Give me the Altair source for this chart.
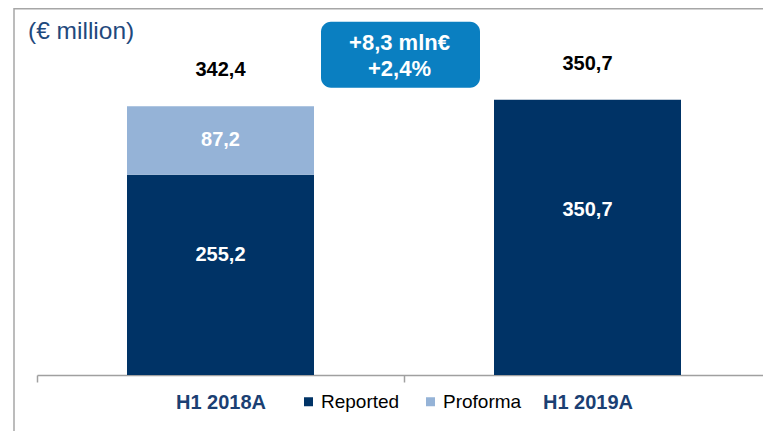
import altair as alt
import pandas as pd

# ---- data ----
categories = ["H1 2018A", "H1 2018A", "H1 2019A"]
series = ["Reported", "Proforma", "Reported"]
values = [255.2, 87.2, 350.7]
stack_order = [0, 1, 0]
category_order = ["H1 2018A", "H1 2019A"]
legend_series = ["Reported", "Proforma"]
series_colors = ["#003366", "#95B3D7"]
badge_lines = ["+8,3 mln€", "+2,4%"]
unit_title = "(€ million)"

df = pd.DataFrame({"category": categories, "series": series,
                   "value": values, "order": stack_order})

FONT = "Liberation Sans"
NAVY_TEXT = "#1B3F73"
GRID_GREY = "#A0A0A0"

y_scale = alt.Scale(domain=[0, 467.5], nice=False, zero=True)

x_axis = alt.X(
    "category:N", sort=category_order, title=None,
    scale=alt.Scale(paddingInner=0, paddingOuter=0),
    axis=alt.Axis(labelAngle=0, tickBand="extent", tickSize=7,
                  domainColor=GRID_GREY, tickColor=GRID_GREY,
                  domainWidth=1.5, tickWidth=1.5,
                  labelFontSize=20, labelFontWeight="bold",
                  labelColor=NAVY_TEXT, labelFont=FONT,
                  labelPadding=10, labelBaseline="top", grid=False),
)

fmt = "replace(format(datum.value, '.1f'), '.', ',')"

base = alt.Chart(df).transform_stack(
    stack="value", groupby=["category"], as_=["y0", "y1"],
    sort=[alt.SortField("order", order="ascending")],
)

bars = base.mark_bar(width=187).encode(
    x=x_axis,
    y=alt.Y("y0:Q", scale=y_scale, axis=None),
    y2="y1:Q",
    color=alt.Color(
        "series:N",
        scale=alt.Scale(domain=legend_series, range=series_colors),
        legend=alt.Legend(title=None, orient="none", legendX=262, legendY=384,
                          direction="horizontal", symbolType="square",
                          symbolSize=81, symbolStrokeWidth=0, symbolOpacity=1,
                          labelFontSize=19, labelFont=FONT, labelColor="black",
                          columnPadding=21, labelOffset=3, padding=0),
    ),
)

inner = base.transform_calculate(
    label_y="datum.y0 + (datum.y1 - datum.y0) * (datum.series == 'Reported' ? 0.6 : 0.5)",
    label=fmt,
).mark_text(color="white", fontSize=20, fontWeight="bold", font=FONT,
            baseline="middle").encode(
    x=x_axis,
    y=alt.Y("label_y:Q", scale=y_scale, axis=None),
    text="label:N",
)

totals = alt.Chart(df).transform_aggregate(
    value="sum(value)", groupby=["category"]
).transform_calculate(label=fmt).mark_text(
    color="black", fontSize=20, fontWeight="bold", font=FONT,
    baseline="middle", dy=-36,
).encode(
    x=x_axis,
    y=alt.Y("value:Q", scale=y_scale, axis=None),
    text="label:N",
)

one = pd.DataFrame({"k": [0]})

top_line = alt.Chart(one).mark_rule(color="#A6A6A6", strokeWidth=1.5).encode(
    x=alt.value(-23), x2=alt.value(740), y=alt.value(0.75))
left_line = alt.Chart(one).mark_rule(color="#A6A6A6", strokeWidth=1.5).encode(
    x=alt.value(-23), y=alt.value(0), y2=alt.value(425))

badge = alt.Chart(one).mark_rect(color="#0A7FC1", cornerRadius=10).encode(
    x=alt.value(284), x2=alt.value(443), y=alt.value(13.7), y2=alt.value(79.7))
badge_text = alt.Chart(one).mark_text(
    text=badge_lines, lineHeight=26, color="white", fontSize=22,
    fontWeight="bold", font=FONT, align="center", baseline="middle",
).encode(x=alt.value(362.5), y=alt.value(35.3))

title_text = alt.Chart(one).mark_text(
    align="left", baseline="middle", fontSize=24.5, color="#1F497D", font=FONT,
).encode(x=alt.value(-9), y=alt.value(24), text=alt.value(unit_title))

chart = alt.layer(
    bars, inner, totals, top_line, left_line, badge, badge_text, title_text
).properties(
    width=734, height=367,
    autosize=alt.AutoSizeParams(type="none"),
    padding={"left": 29, "top": 0, "right": -8, "bottom": 56},
).configure_view(stroke=None)

chart.save("out.html", embed_options={"renderer": "svg", "actions": False})
